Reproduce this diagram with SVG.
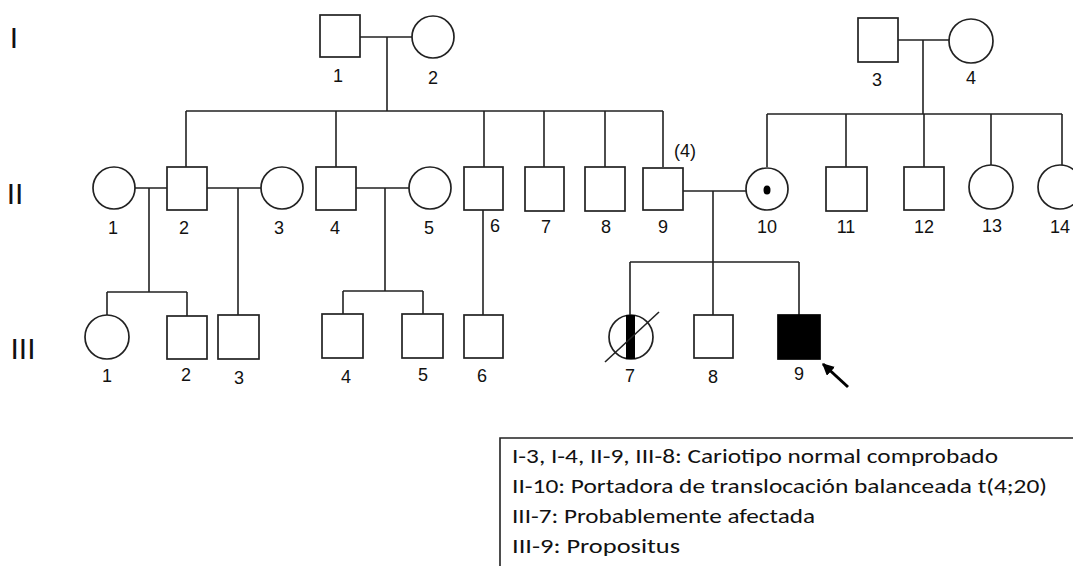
<svg xmlns="http://www.w3.org/2000/svg" width="1073" height="566" viewBox="0 0 1073 566">
<style>
.s{fill:#fff;stroke:#222;stroke-width:1.7}
.f{fill:#000;stroke:#000;stroke-width:1.7}
.c{fill:none;stroke:#222;stroke-width:1.6}
.n{font-family:"Liberation Sans",Arial,sans-serif;font-size:18px;fill:#111;text-anchor:middle}
.g{font-family:"Liberation Sans",Arial,sans-serif;font-size:30px;fill:#111;text-anchor:middle}
.l{font-family:Carlito,Lato,"Liberation Sans",sans-serif;font-size:20px;fill:#111}
</style>
<defs>
<marker id="ah" viewBox="0 0 10 10" refX="9" refY="5" markerWidth="4" markerHeight="4" orient="auto" markerUnits="strokeWidth">
<path d="M0,0 L10,5 L0,10 z" fill="#000"/>
</marker>
</defs>
<rect width="1073" height="566" fill="#fff"/>
<g id="generations">
<text class="g" x="14" y="48">I</text>
<text class="g" x="15" y="204">II</text>
<text class="g" x="23" y="359">III</text>
</g>
<g id="connectors">
<path class="c" d="M360,37 H412 M387,37 V111 M186,111 H663 M186,111 V167 M336,111 V167 M484,111 V167 M544,111 V167 M605,111 V167 M663,111 V167"/>
<path class="c" d="M898,40 H949 M923,40 V114 M767,114 H1062 M767,114 V167 M846,114 V167 M924,114 V167 M991,114 V165 M1062,114 V165"/>
<path class="c" d="M135,188 H167 M149,188 V292 M107,292 H187 M107,292 V315 M187,292 V316"/>
<path class="c" d="M207,188 H261 M238,188 V315"/>
<path class="c" d="M356,188 H409 M385,188 V291 M343,291 H423 M343,291 V314 M423,291 V314"/>
<path class="c" d="M483,210 V315"/>
<path class="c" d="M683,191 H746 M713,191 V315 M630,262 H799 M630,262 V315 M799,262 V315"/>
</g>
<g id="I-1"><rect class="s" x="320" y="15" width="40" height="42"/><text class="n" x="338" y="82">1</text></g>
<g id="I-2"><circle class="s" cx="433" cy="37" r="21"/><text class="n" x="433" y="84">2</text></g>
<g id="I-3"><rect class="s" x="858" y="18" width="40" height="44"/><text class="n" x="877" y="86">3</text></g>
<g id="I-4"><circle class="s" cx="971" cy="41" r="22"/><text class="n" x="971" y="84">4</text></g>
<g id="II-1"><circle class="s" cx="114" cy="188" r="21"/><text class="n" x="113" y="234">1</text></g>
<g id="II-2"><rect class="s" x="167" y="167" width="40" height="43"/><text class="n" x="184" y="234">2</text></g>
<g id="II-3"><circle class="s" cx="282" cy="188" r="21"/><text class="n" x="279" y="234">3</text></g>
<g id="II-4"><rect class="s" x="316" y="167" width="40" height="43"/><text class="n" x="335" y="234">4</text></g>
<g id="II-5"><circle class="s" cx="430" cy="188" r="21"/><text class="n" x="429" y="234">5</text></g>
<g id="II-6"><rect class="s" x="464" y="167" width="39" height="43"/><text class="n" x="495" y="232">6</text></g>
<g id="II-7"><rect class="s" x="525" y="167" width="39" height="44"/><text class="n" x="546" y="233">7</text></g>
<g id="II-8"><rect class="s" x="585" y="167" width="40" height="44"/><text class="n" x="606" y="233">8</text></g>
<g id="II-9"><rect class="s" x="643" y="168" width="40" height="42"/><text class="n" x="663" y="233">9</text><text class="n" x="685" y="157">(4)</text></g>
<g id="II-10"><circle class="s" cx="767" cy="189" r="21"/><ellipse cx="767" cy="190" rx="3.5" ry="4.5" fill="#000"/><text class="n" x="767" y="233">10</text></g>
<g id="II-11"><rect class="s" x="826" y="167" width="41" height="44"/><text class="n" x="846" y="233">11</text></g>
<g id="II-12"><rect class="s" x="904" y="167" width="40" height="43"/><text class="n" x="924" y="233">12</text></g>
<g id="II-13"><circle class="s" cx="991" cy="187" r="22"/><text class="n" x="992" y="232">13</text></g>
<g id="II-14"><circle class="s" cx="1060" cy="187" r="22"/><text class="n" x="1060" y="233">14</text></g>
<g id="III-1"><circle class="s" cx="107" cy="337" r="22"/><text class="n" x="107" y="382">1</text></g>
<g id="III-2"><rect class="s" x="167" y="316" width="40" height="43"/><text class="n" x="186" y="381">2</text></g>
<g id="III-3"><rect class="s" x="218" y="315" width="41" height="44"/><text class="n" x="239" y="384">3</text></g>
<g id="III-4"><rect class="s" x="322" y="314" width="41" height="44"/><text class="n" x="346" y="383">4</text></g>
<g id="III-5"><rect class="s" x="402" y="314" width="41" height="44"/><text class="n" x="423" y="381">5</text></g>
<g id="III-6"><rect class="s" x="464" y="315" width="39" height="43"/><text class="n" x="482" y="382">6</text></g>
<g id="III-7"><circle class="s" cx="631" cy="337" r="22"/><rect x="626" y="315" width="9" height="44" fill="#000"/><line class="c" x1="605" y1="362" x2="659" y2="312" stroke-width="2"/><text class="n" x="630" y="382">7</text></g>
<g id="III-8"><rect class="s" x="694" y="315" width="39" height="43"/><text class="n" x="713" y="383">8</text></g>
<g id="III-9"><rect class="f" x="778" y="315" width="42" height="44"/><text class="n" x="799" y="380">9</text><line x1="848" y1="387" x2="823" y2="364" stroke="#000" stroke-width="3" marker-end="url(#ah)"/></g>
<g id="legend">
<path class="c" d="M500,566 V438 H1073"/>
<text class="l" x="512" y="463" textLength="486" lengthAdjust="spacingAndGlyphs">I-3, I-4, II-9, III-8: Cariotipo normal comprobado</text>
<text class="l" x="512" y="493" textLength="535" lengthAdjust="spacingAndGlyphs">II-10: Portadora de translocación balanceada t(4;20)</text>
<text class="l" x="512" y="523" textLength="303" lengthAdjust="spacingAndGlyphs">III-7: Probablemente afectada</text>
<text class="l" x="512" y="553" textLength="168" lengthAdjust="spacingAndGlyphs">III-9: Propositus</text>
</g>
</svg>
